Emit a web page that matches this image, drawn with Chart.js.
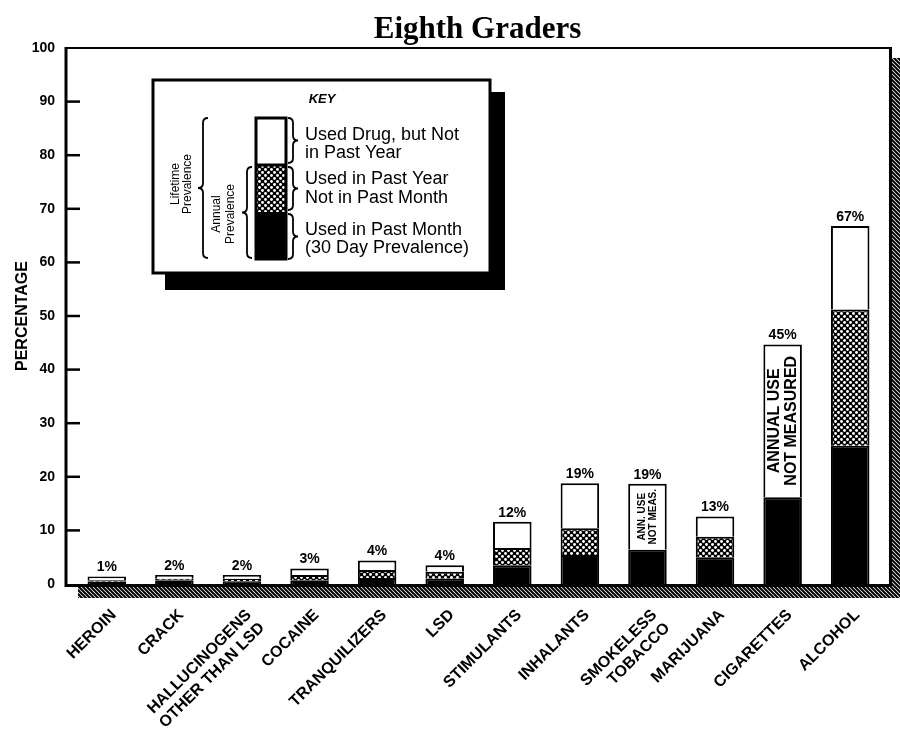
<!DOCTYPE html>
<html>
<head>
<meta charset="utf-8">
<script src="https://cdn.jsdelivr.net/npm/chart.js@4.4.0/dist/chart.umd.min.js"></script>
<style>
  html, body { margin: 0; background: #fff; }
  #caixa { width: 900px; height: 745px; }
</style>
</head>
<body>
<div id="caixa"><canvas id="grafico"></canvas></div>
<script>
// dados (oitava serie)
const drogas = [['HEROIN'], ['CRACK'], ['HALLUCINOGENS', 'OTHER THAN LSD'], ['COCAINE'], ['TRANQUILIZERS'], ['LSD'],
  ['STIMULANTS'], ['INHALANTS'], ['SMOKELESS', 'TOBACCO'], ['MARIJUANA'], ['CIGARETTES'], ['ALCOHOL']];
const vida = [1.4, 1.7, 1.7, 2.9, 4.4, 3.5, 11.6, 18.8, 18.7, 12.6, 44.7, 66.8];
const anual = [0.7, 1.0, 1.0, 1.7, 2.6, 2.3, 6.7, 10.4, null, 8.8, null, 51.2];
const mes = [0.4, 0.7, 0.5, 0.7, 1.1, 1.0, 3.5, 5.4, 6.4, 5.0, 16.2, 25.8];
const rotulos = ['1%', '2%', '2%', '3%', '4%', '4%', '12%', '19%', '19%', '13%', '45%', '67%'];
const ticksY = [0, 10, 20, 30, 40, 50, 60, 70, 80, 90, 100];

const sans = '"Liberation Sans", Arial, sans-serif';
const narrow = '"Liberation Sans Narrow", "Liberation Sans", Arial, sans-serif';

// partes empilhadas
const parteAnual = anual.map((a, i) => a === null ? null : a - mes[i]);
const parteVida = vida.map((v, i) => v - (anual[i] === null ? mes[i] : anual[i]));

// padrao pontilhado
function padraoPontos(ctx) {
  const c = document.createElement('canvas');
  c.width = 6; c.height = 6;
  const g = c.getContext('2d');
  g.fillStyle = '#000';
  g.fillRect(0, 0, 6, 6);
  g.fillStyle = '#fff';
  [[1.5, 1.5], [4.5, 4.5]].forEach(function (p) {
    g.beginPath();
    g.arc(p[0], p[1], 1.45, 0, Math.PI * 2);
    g.fill();
  });
  return ctx.createPattern(c, 'repeat');
}

// padrao hachurado (sombra)
function padraoHachura(ctx) {
  const c = document.createElement('canvas');
  c.width = 4; c.height = 4;
  const g = c.getContext('2d');
  g.fillStyle = '#fff';
  g.fillRect(0, 0, 4, 4);
  g.strokeStyle = '#000';
  g.lineWidth = 2;
  g.beginPath();
  g.moveTo(-1, -1); g.lineTo(5, 5);
  g.moveTo(-1, 3); g.lineTo(1, 5);
  g.moveTo(3, -1); g.lineTo(5, 1);
  g.stroke();
  return ctx.createPattern(c, 'repeat');
}

const ctx = document.getElementById('grafico').getContext('2d');
const pontos = padraoPontos(ctx);
const hachura = padraoHachura(ctx);

function chave(c, x, y1, y2, lado) {
  // lado 1 = '}' , lado -1 = '{'
  const m = (y1 + y2) / 2, w = 5 * lado;
  c.beginPath();
  c.moveTo(x - w, y1);
  c.quadraticCurveTo(x, y1, x, y1 + 5);
  c.lineTo(x, m - 5);
  c.quadraticCurveTo(x, m, x + w, m);
  c.quadraticCurveTo(x, m, x, m + 5);
  c.lineTo(x, y2 - 5);
  c.quadraticCurveTo(x, y2, x - w, y2);
  c.stroke();
}

function textoVertical(c, linhas, x, y, fonte, passo) {
  c.save();
  c.translate(x, y);
  c.rotate(-Math.PI / 2);
  c.font = fonte;
  c.textAlign = 'center';
  c.textBaseline = 'middle';
  linhas.forEach(function (t, k) {
    c.fillText(t, 0, (k - (linhas.length - 1) / 2) * passo);
  });
  c.restore();
}

const moldura = {
  id: 'moldura',
  beforeDatasetsDraw(chart) {
    const c = chart.ctx, a = chart.chartArea;
    const ys = chart.scales.y;
    const L = a.left - 7, R = a.right + 5, T = ys.getPixelForValue(100), B = ys.getPixelForValue(0);
    c.save();
    c.fillStyle = hachura;
    c.fillRect(L + 12, B + 2, R + 11 - (L + 12), 12);
    c.fillRect(R + 2, T + 10, 9, B + 14 - (T + 10));
    c.restore();
  },
  afterDatasetsDraw(chart) {
    const c = chart.ctx, a = chart.chartArea;
    const xs = chart.scales.x, ys = chart.scales.y;
    const L = a.left - 7, R = a.right + 5, T = ys.getPixelForValue(100), B = ys.getPixelForValue(0);
    c.save();
    c.strokeStyle = '#000';
    c.lineWidth = 2;
    c.beginPath(); c.moveTo(L, T); c.lineTo(R, T); c.stroke();
    c.lineWidth = 3;
    c.beginPath(); c.moveTo(L, T - 1); c.lineTo(L, B + 1.5); c.lineTo(R + 1.5, B + 1.5); c.lineTo(R + 1.5, T - 1); c.stroke();
    // marcas do eixo y, para dentro
    c.lineWidth = 2.5;
    ticksY.slice(1, -1).forEach(function (v) {
      const y = ys.getPixelForValue(v);
      c.beginPath(); c.moveTo(L, y); c.lineTo(L + 14, y); c.stroke();
    });
    // porcentagens no topo
    c.fillStyle = '#000';
    c.font = 'bold 14px ' + sans;
    c.textAlign = 'center';
    c.textBaseline = 'alphabetic';
    rotulos.forEach(function (t, i) {
      c.fillText(t, xs.getPixelForValue(i), ys.getPixelForValue(vida[i]) - 5);
    });
    // uso anual nao medido
    [8, 10].forEach(function (i) {
      const meio = ys.getPixelForValue((vida[i] + mes[i]) / 2);
      const x = xs.getPixelForValue(i);
      if (i === 10) textoVertical(c, ['ANNUAL USE', 'NOT MEASURED'], x, meio, 'bold 16px ' + narrow, 17);
      else textoVertical(c, ['ANN. USE', 'NOT MEAS.'], x, meio, 'bold 10px ' + narrow, 11);
    });
    // titulo
    c.font = 'bold 31px "Liberation Serif", "Times New Roman", serif';
    c.textAlign = 'center';
    c.fillText('Eighth Graders', (L + R) / 2, 38);
    c.restore();
  },
  afterDraw(chart) {
    const c = chart.ctx;
    c.save();
    // caixa da legenda com sombra
    c.fillStyle = '#000';
    c.fillRect(165, 92, 340, 198);
    c.fillStyle = '#fff';
    c.fillRect(153, 80, 337, 193);
    c.strokeStyle = '#000';
    c.lineWidth = 3;
    c.strokeRect(153, 80, 337, 193);
    c.fillStyle = '#000';
    c.font = 'italic bold 13px ' + sans;
    c.textAlign = 'center';
    c.textBaseline = 'middle';
    c.fillText('KEY', 322, 99);
    // barra exemplo
    c.fillStyle = '#000';
    c.fillRect(256, 212, 30, 47);
    c.fillStyle = pontos;
    c.fillRect(256, 165, 30, 47);
    c.fillStyle = '#fff';
    c.fillRect(256, 118, 30, 47);
    c.lineWidth = 3;
    c.strokeRect(256, 118, 30, 141);
    c.beginPath(); c.moveTo(256, 165); c.lineTo(286, 165); c.stroke();
    // chaves
    c.lineWidth = 1.8;
    chave(c, 293, 118, 163, 1);
    chave(c, 293, 167, 210, 1);
    chave(c, 293, 214, 259, 1);
    chave(c, 203, 118, 258, -1);
    chave(c, 247, 167, 258, -1);
    // textos
    c.fillStyle = '#000';
    textoVertical(c, ['Lifetime', 'Prevalence'], 182, 184, '12px ' + sans, 12);
    textoVertical(c, ['Annual', 'Prevalence'], 224, 214, '12px ' + sans, 14);
    c.font = '18px ' + sans;
    c.textAlign = 'left';
    c.textBaseline = 'alphabetic';
    c.fillText('Used Drug, but Not', 305, 140);
    c.fillText('in Past Year', 305, 158);
    c.fillText('Used in Past Year', 305, 184);
    c.fillText('Not in Past Month', 305, 203);
    c.fillText('Used in Past Month', 305, 235);
    c.fillText('(30 Day Prevalence)', 305, 253);
    c.restore();
  }
};

new Chart(ctx, {
  type: 'bar',
  data: {
    labels: drogas,
    datasets: [
      { label: 'Used in Past Month', data: mes, backgroundColor: '#000', borderColor: '#000', borderWidth: 2 },
      { label: 'Used in Past Year Not in Past Month', data: parteAnual, backgroundColor: pontos, borderColor: '#000', borderWidth: 2 },
      { label: 'Used Drug, but Not in Past Year', data: parteVida, backgroundColor: '#fff', borderColor: '#000', borderWidth: 2 }
    ]
  },
  options: {
    responsive: true,
    maintainAspectRatio: false,
    animation: false,
    barPercentage: 0.57,
    categoryPercentage: 1,
    layout: { padding: { top: 48, right: 16, left: 0, bottom: 0 } },
    plugins: { legend: { display: false }, tooltip: { enabled: false }, title: { display: false } },
    scales: {
      x: {
        stacked: true,
        grid: { display: false },
        border: { display: false },
        ticks: {
          autoSkip: false, maxRotation: 45, minRotation: 45,
          color: '#000', padding: 14, labelOffset: 7,
          font: { family: sans, size: 16, weight: 'bold', lineHeight: 1.15 }
        },
        afterFit(s) { s.height = 161; }
      },
      y: {
        stacked: true,
        min: 0, max: 100,
        grid: { display: false, drawTicks: false },
        border: { display: false },
        ticks: { stepSize: 10, color: '#000', padding: 18, font: { family: sans, size: 14, weight: 'bold' } },
        title: { display: true, text: 'PERCENTAGE', color: '#000', padding: { top: 13, bottom: 0 }, font: { family: sans, size: 16, weight: 'bold' } },
        afterFit(s) { s.width = 73; }
      }
    }
  },
  plugins: [moldura]
});
</script>
</body>
</html>
